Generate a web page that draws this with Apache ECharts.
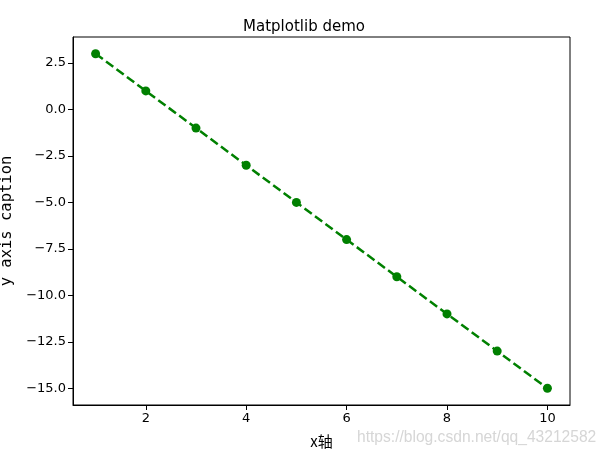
<!DOCTYPE html>
<html><head><meta charset="utf-8">
<script src="https://cdn.jsdelivr.net/npm/echarts@6/dist/echarts.min.js"></script>
<style>html,body{margin:0;padding:0;background:#fff}#c{width:608px;height:457px}</style>
</head><body><div id="c"></div>
<script>
const xValues = [1, 2, 3, 4, 5, 6, 7, 8, 9, 10];
const yValues = [3, 1, -1, -3, -5, -7, -9, -11, -13, -15];
const xTicks = [2, 4, 6, 8, 10];
const yTicks = [2.5, 0, -2.5, -5, -7.5, -10, -12.5, -15];
const titleText = 'Matplotlib demo';
const xName = 'x轴';
const yName = 'y axis caption';
const watermark = 'https://blog.csdn.net/qq_43212582';

const fmtY = v => v.toFixed(1).replace('-', '\u2212');
const font = 'DejaVu Sans';
const chart = echarts.init(document.getElementById('c'), null, {renderer: 'canvas'});
chart.setOption({
  animation: false,
  backgroundColor: '#fff',
  title: {text: titleText, left: 'center', top: 15, itemGap: 0,
    textStyle: {fontFamily: font, fontSize: 15, fontWeight: 'normal', color: '#000'}},
  grid: {left: 73, right: 38, top: 37, bottom: 52, show: true, borderColor: '#000', borderWidth: 1,
    containLabel: false, outerBoundsMode: 'none'},
  xAxis: {
    type: 'value', min: 0.55, max: 10.45,
    name: xName, nameLocation: 'middle', nameGap: 29,
    nameTextStyle: {fontFamily: 'Noto Sans CJK SC', fontSize: 15, color: '#000'},
    axisLine: {show: true, onZero: false, lineStyle: {color: '#000', width: 1}},
    axisTick: {show: true, length: 5, lineStyle: {color: '#000'}, customValues: xTicks},
    axisLabel: {customValues: xTicks, fontFamily: font, fontSize: 13, color: '#000', margin: 7, formatter: v => String(v)},
    splitLine: {show: false}
  },
  yAxis: {
    type: 'value', min: -15.9, max: 3.9,
    name: yName, nameLocation: 'middle', nameGap: 57, nameRotate: 90,
    nameTextStyle: {fontFamily: 'DejaVu Sans Mono', fontSize: 15.5, color: '#000'},
    axisLine: {show: true, onZero: false, lineStyle: {color: '#000', width: 1}},
    axisTick: {show: true, length: 5, lineStyle: {color: '#000'}, customValues: yTicks},
    axisLabel: {customValues: yTicks, fontFamily: font, fontSize: 13, color: '#000', margin: 7, formatter: fmtY},
    splitLine: {show: false}
  },
  graphic: [{type: 'text', left: 357, top: 430, silent: true,
    style: {text: watermark, fill: '#d6d6d6', font: '15.6px "Liberation Sans"'}}],
  series: [{
    type: 'line',
    data: xValues.map((x, i) => [x, yValues[i]]),
    symbol: 'circle', symbolSize: 9,
    itemStyle: {color: '#008000'},
    lineStyle: {color: '#008000', width: 2.5, type: [9, 4]}
  }]
});
</script></body></html>
